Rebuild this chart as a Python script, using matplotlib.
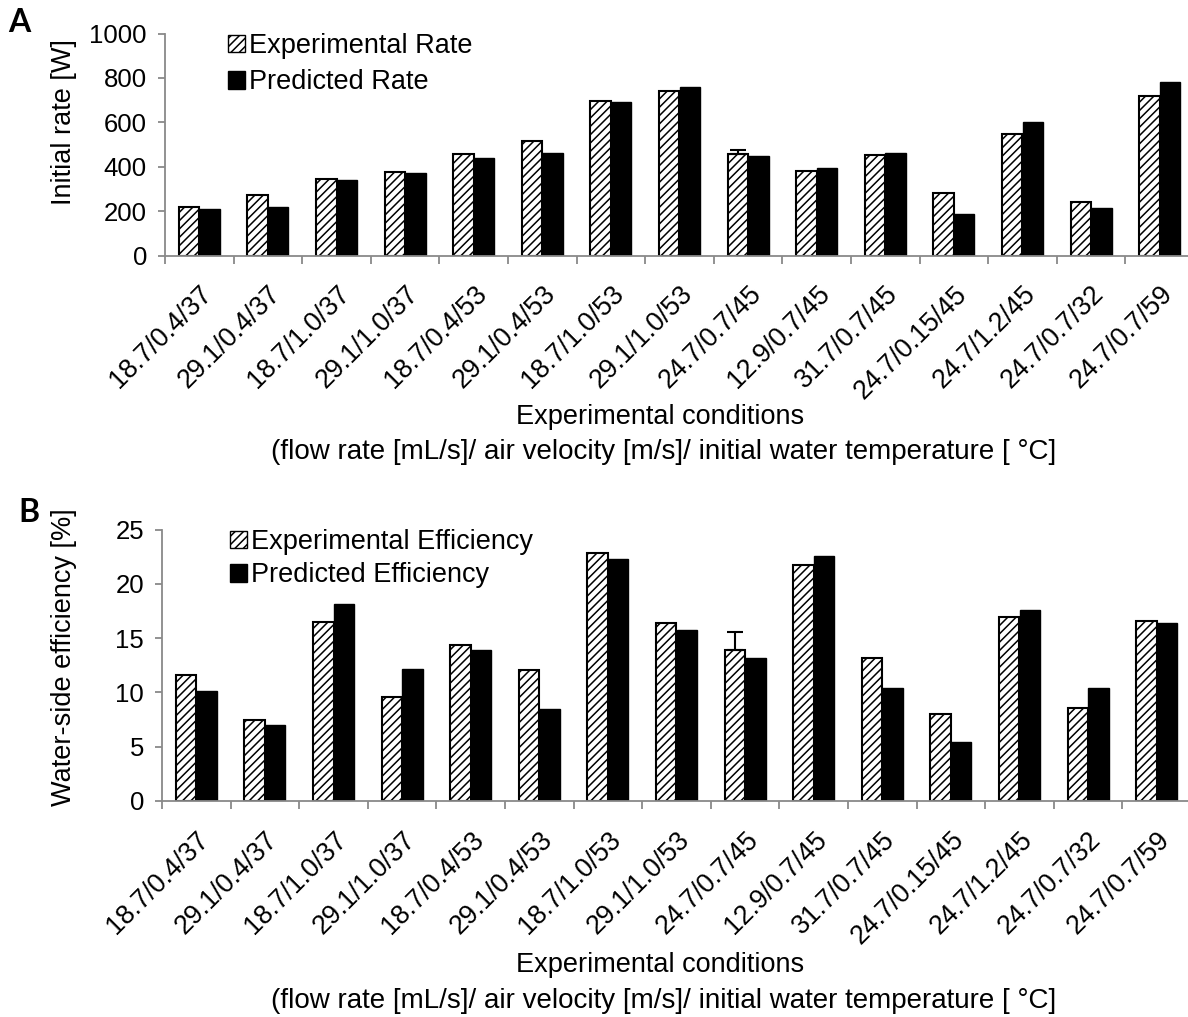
import numpy as np
import matplotlib
matplotlib.use("Agg")
import matplotlib.pyplot as plt
from matplotlib.patches import Patch

plt.rcParams['font.family'] = ['Liberation Sans', 'DejaVu Sans']
plt.rcParams['hatch.linewidth'] = 1.1

# data
conditions = ['18.7/0.4/37', '29.1/0.4/37', '18.7/1.0/37', '29.1/1.0/37', '18.7/0.4/53',
              '29.1/0.4/53', '18.7/1.0/53', '29.1/1.0/53', '24.7/0.7/45', '12.9/0.7/45',
              '31.7/0.7/45', '24.7/0.15/45', '24.7/1.2/45', '24.7/0.7/32', '24.7/0.7/59']
exp_rate = [220, 271, 346, 376, 458, 516, 697, 742, 455, 381, 452, 283, 547, 241, 720]
pred_rate = [211, 218, 340, 373, 440, 463, 691, 760, 450, 395, 460, 185, 600, 215, 783]
err_rate = [0, 0, 0, 0, 0, 0, 0, 0, 22, 0, 0, 0, 0, 0, 0]
exp_eff = [11.6, 7.45, 16.5, 9.6, 14.35, 12.1, 22.8, 16.4, 13.95, 21.75, 13.2, 8.0, 16.95, 8.6, 16.55]
pred_eff = [10.15, 7.0, 18.1, 12.15, 13.9, 8.5, 22.25, 15.7, 13.15, 22.55, 10.45, 5.4, 17.6, 10.45, 16.35]
err_eff = [0, 0, 0, 0, 0, 0, 0, 0, 1.6, 0, 0, 0, 0, 0, 0]

W, H = 1188, 1017
fig = plt.figure(figsize=(W / 100, H / 100), dpi=100)
gray = '#898989'
fs_tick = 18.5
fs_xtick = 19.2
fs_lab = 19.5


def px_axes(left, top, right, bottom):
    return fig.add_axes([left / W, 1 - bottom / H, (right - left) / W, (bottom - top) / H])


def draw_panel(ax, exp, pred, err, ymax, ystep, legend_labels, leg_xy, spacing):
    x = np.arange(len(conditions))
    ax.bar(x - 0.15, exp, width=0.3, color='white', edgecolor='black', hatch='////', linewidth=1.5)
    ax.bar(x + 0.15, pred, width=0.3, color='black', edgecolor='black', linewidth=1.0)
    for i, e in enumerate(err):
        if e > 0:
            ax.errorbar(x[i] - 0.15, exp[i], yerr=[[0], [e]], color='black', capsize=6,
                        elinewidth=1.5, capthick=1.5)
    ax.set_xlim(-0.5, len(conditions) - 0.5)
    ax.set_ylim(0, ymax)
    ax.set_yticks(np.arange(0, ymax + ystep / 2, ystep))
    ax.set_xticks(x)
    ax.set_xticklabels(conditions, rotation=45, ha='right', va='top', rotation_mode='anchor')
    ax.set_xticks(np.arange(-0.5, len(conditions)), minor=True)
    ax.tick_params(axis='x', which='major', length=0, pad=18.5, labelsize=fs_xtick)
    ax.tick_params(axis='x', which='minor', length=6, width=1.3, color=gray, direction='out')
    ax.tick_params(axis='y', length=5, width=1.3, color=gray, labelsize=fs_tick, pad=8)
    for s in ['top', 'right']:
        ax.spines[s].set_visible(False)
    for s in ['left', 'bottom']:
        ax.spines[s].set_color(gray)
        ax.spines[s].set_linewidth(1.3)
    handles = [Patch(facecolor='white', edgecolor='black', hatch='////', linewidth=1.0),
               Patch(facecolor='black', edgecolor='black')]
    fig.legend(handles, legend_labels, loc='upper left',
               bbox_to_anchor=(leg_xy[0] / W, 1 - leg_xy[1] / H), bbox_transform=fig.transFigure,
               frameon=False, fontsize=fs_lab, handlelength=0.62, handleheight=0.62,
               handletextpad=0.15, labelspacing=spacing, borderpad=0, borderaxespad=0)


axA = px_axes(165, 33.5, 1194, 255.5)
draw_panel(axA, exp_rate, pred_rate, err_rate, 1000, 200,
           ['Experimental Rate', 'Predicted Rate'], (228, 33), 0.38)
axB = px_axes(162, 529.5, 1191, 801)
draw_panel(axB, exp_eff, pred_eff, err_eff, 25, 5,
           ['Experimental Efficiency', 'Predicted Efficiency'], (230, 529), 0.27)

fig.text(64 / W, 1 - 122 / H, 'Initial rate [W]', rotation=90, ha='center', va='center', fontsize=fs_lab)
fig.text(64 / W, 1 - 657 / H, 'Water-side efficiency [%]', rotation=90, ha='center', va='center', fontsize=fs_lab)

for y1, y2 in [(417, 452), (965, 1001)]:
    fig.text(660 / W, 1 - y1 / H, 'Experimental conditions', ha='center', va='center', fontsize=fs_lab)
    fig.text(664 / W, 1 - y2 / H, '(flow rate [mL/s]/ air velocity [m/s]/ initial water temperature [ \u00b0C]',
             ha='center', va='center', fontsize=20)

fig.text(19 / W, 1 - 23 / H, 'A', ha='center', va='center', fontsize=23, fontweight='bold', family='Lato')
fig.text(29 / W, 1 - 513 / H, 'B', ha='center', va='center', fontsize=23, fontweight='bold', family='Lato')

fig.savefig('out.png', dpi=100)
